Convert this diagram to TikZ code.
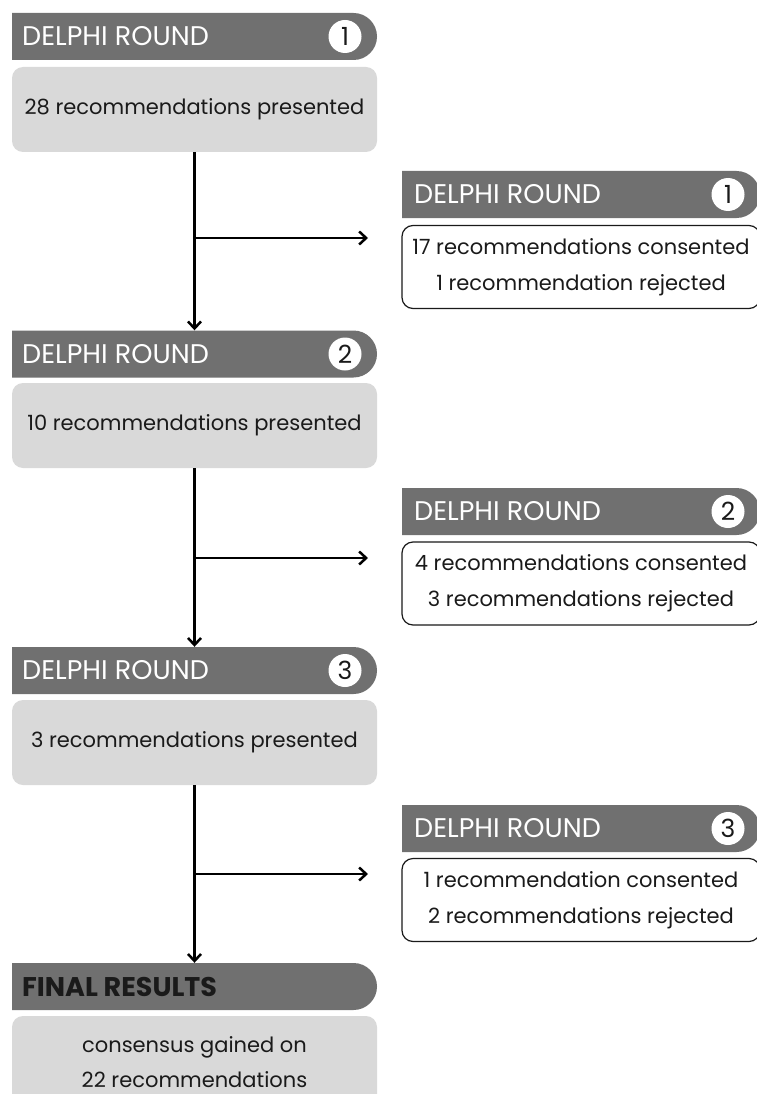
\documentclass[tikz,border=0pt]{standalone}
\usepackage{fontspec}
\setmainfont{Poppins}
\usetikzlibrary{shapes.misc,arrows.meta}
\definecolor{bargrey}{HTML}{707070}
\definecolor{boxgrey}{HTML}{D9D9D9}
\definecolor{inkblack}{HTML}{1A1A1A}
\tikzset{
  roundbar/.style={rounded rectangle, rounded rectangle left arc=none, fill=bargrey,
    minimum width=365pt, minimum height=47pt, inner sep=0pt},
  bartitle/.style={anchor=west, text=white, inner sep=0pt,
    font=\fontsize{27}{30}\selectfont},
  roundnum/.style={circle, fill=white, text=inkblack, minimum size=33pt, inner sep=0pt,
    font=\fontsize{25}{28}\selectfont},
  greybox/.style={rectangle, rounded corners=11pt, fill=boxgrey, text=inkblack,
    minimum width=365pt, minimum height=85pt, align=center,
    font=\fontsize{21}{35}\selectfont},
  whitebox/.style={rectangle, rounded corners=11pt, draw=inkblack, line width=1.2pt,
    text=inkblack, minimum width=358pt, minimum height=83pt, align=center,
    font=\fontsize{21}{36}\selectfont},
}
\begin{document}
\begin{tikzpicture}[x=1pt, y=-1pt, >={Straight Barb[length=7pt,width=13pt]}]
\fill[white] (0,0) rectangle (756,1094);
\useasboundingbox (0,0) rectangle (756,1094);

% left column
\node[roundbar] (bar1) at (194.5,36.5) {};
\node[bartitle] (title1) at (22,36.5) {DELPHI ROUND};
\node[roundnum] (num1) at (345,36.5) {1};
\node[greybox] (box1) at (194.5,109.5) {28 recommendations presented};

\node[roundbar] (bar2) at (194.5,354) {};
\node[bartitle] (title2) at (22,354) {DELPHI ROUND};
\node[roundnum] (num2) at (345,354) {2};
\node[greybox] (box2) at (194.5,425.5) {10 recommendations presented};

\node[roundbar] (bar3) at (194.5,670.5) {};
\node[bartitle] (title3) at (22,670.5) {DELPHI ROUND};
\node[roundnum] (num3) at (345,670.5) {3};
\node[greybox] (box3) at (194.5,742.5) {3 recommendations presented};

\node[roundbar] (barfin) at (194.5,986.5) {};
\node[bartitle, text=inkblack, font=\fontsize{27}{30}\selectfont\bfseries] (titlefin) at (22,986.5) {FINAL RESULTS};
\node[greybox, minimum height=92pt] (boxfin) at (194.5,1062) {consensus gained on\\22 recommendations};

% right column
\node[roundbar, minimum width=358pt] (rbar1) at (581,194.5) {};
\node[bartitle] (rtitle1) at (414,194.5) {DELPHI ROUND};
\node[roundnum] (rnum1) at (728,194.5) {1};
\node[whitebox] (rbox1) at (581,267) {17 recommendations consented\\1 recommendation rejected};

\node[roundbar, minimum width=358pt] (rbar2) at (581,511.5) {};
\node[bartitle] (rtitle2) at (414,511.5) {DELPHI ROUND};
\node[roundnum] (rnum2) at (728,511.5) {2};
\node[whitebox] (rbox2) at (581,583.5) {4 recommendations consented\\3 recommendations rejected};

\node[roundbar, minimum width=358pt] (rbar3) at (581,828.5) {};
\node[bartitle] (rtitle3) at (414,828.5) {DELPHI ROUND};
\node[roundnum] (rnum3) at (728,828.5) {3};
\node[whitebox] (rbox3) at (581,900) {1 recommendation consented\\2 recommendations rejected};

% connectors
\coordinate (tip1) at (368,238);
\coordinate (tip2) at (368,558);
\coordinate (tip3) at (368,874);

\draw[->, line width=2.5pt] (box1.south) -- (bar2.north);
\draw[->, line width=2.5pt] (box1.south |- tip1) -- (tip1);
\draw[->, line width=2.5pt] (box2.south) -- (bar3.north);
\draw[->, line width=2.5pt] (box2.south |- tip2) -- (tip2);
\draw[->, line width=2.5pt] (box3.south) -- (barfin.north);
\draw[->, line width=2.5pt] (box3.south |- tip3) -- (tip3);
\end{tikzpicture}
\end{document}
